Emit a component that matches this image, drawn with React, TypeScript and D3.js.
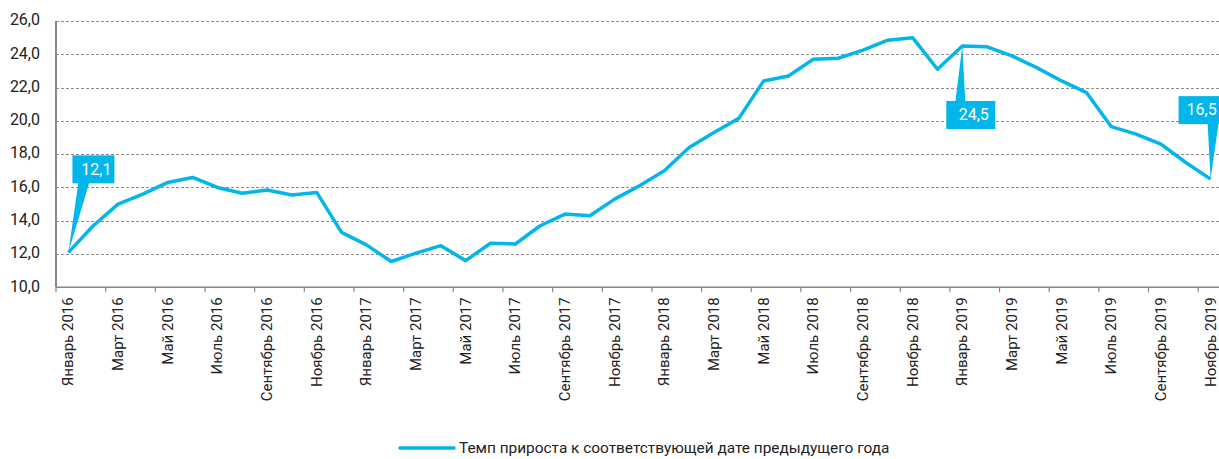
import { useEffect, useRef } from 'react'
import * as d3 from 'd3'

const months = ['Январь', 'Февраль', 'Март', 'Апрель', 'Май', 'Июнь', 'Июль', 'Август', 'Сентябрь', 'Октябрь', 'Ноябрь', 'Декабрь']
const years = [2016, 2017, 2018, 2019]

const categories: string[] = []
years.forEach(y => months.forEach(m => categories.push(`${m} ${y}`)))
categories.splice(47)

const growthRate = [
  12.1, 13.7, 15.0, 15.6, 16.3, 16.6, 16.0, 15.65, 15.85, 15.55, 15.7, 13.3,
  12.55, 11.55, 12.05, 12.5, 11.6, 12.65, 12.6, 13.7, 14.4, 14.3, 15.3, 16.1,
  17.0, 18.4, 19.3, 20.15, 22.4, 22.7, 23.7, 23.76, 24.25, 24.85, 25.0, 23.1,
  24.5, 24.45, 23.9, 23.2, 22.4, 21.7, 19.65, 19.2, 18.6, 17.5, 16.5,
]

const yTicks = [10, 12, 14, 16, 18, 20, 22, 24, 26]
const seriesName = 'Темп прироста к соответствующей дате предыдущего года'

// callouts: index into data, label, placement
const callouts = [
  { index: 0, label: '12,1', place: 'above-right' },
  { index: 36, label: '24,5', place: 'below' },
  { index: 46, label: '16,5', place: 'above-left' },
]

const BLUE = '#00b6ea'
const FONT = 'Roboto, "Noto Sans", sans-serif'

export default function App() {
  const svgRef = useRef<SVGSVGElement>(null)

  useEffect(() => {
    if (!svgRef.current) return
    const W = 1219
    const H = 459
    const margin = { top: 21, left: 56, bottom: 172 }
    const plotBottom = H - margin.bottom + 0.3

    const svg = d3.select(svgRef.current)
    svg.selectAll('*').remove()
    svg.attr('width', W).attr('height', H)

    const x = d3.scaleBand()
      .domain(categories)
      .range([margin.left, margin.left + categories.length * 24.83])
      .padding(0)

    const y = d3.scaleLinear()
      .domain([10, 26])
      .range([plotBottom, margin.top])

    const cx = (i: number) => (x(categories[i]) || 0) + x.bandwidth() / 2

    // Gridlines
    svg.append('g')
      .selectAll('line')
      .data(yTicks.filter(t => t > 10))
      .join('line')
      .attr('x1', margin.left)
      .attr('x2', W)
      .attr('y1', d => Math.round(y(d)) + 0.5)
      .attr('y2', d => Math.round(y(d)) + 0.5)
      .attr('stroke', '#8c8c8c')
      .attr('stroke-width', 1)
      .attr('stroke-dasharray', '3,2')

    // Y axis labels
    svg.append('g')
      .selectAll('text')
      .data(yTicks)
      .join('text')
      .attr('x', 40)
      .attr('y', d => y(d))
      .attr('text-anchor', 'end')
      .attr('dominant-baseline', 'middle')
      .attr('font-family', FONT)
      .attr('font-size', '16px')
      .attr('fill', '#222')
      .text(d => d.toFixed(1).replace('.', ','))

    // Y axis line
    svg.append('line')
      .attr('x1', margin.left)
      .attr('x2', margin.left)
      .attr('y1', margin.top)
      .attr('y2', plotBottom)
      .attr('stroke', '#888')
      .attr('stroke-width', 2)

    // X axis line and ticks
    svg.append('line')
      .attr('x1', margin.left)
      .attr('x2', W)
      .attr('y1', plotBottom)
      .attr('y2', plotBottom)
      .attr('stroke', '#888')
      .attr('stroke-width', 1.5)

    const tickIdx = d3.range(0, categories.length, 2)
    svg.append('g')
      .selectAll('line')
      .data(tickIdx)
      .join('line')
      .attr('x1', i => x(categories[i]) || 0)
      .attr('x2', i => x(categories[i]) || 0)
      .attr('y1', plotBottom)
      .attr('y2', plotBottom + 5)
      .attr('stroke', '#888')
      .attr('stroke-width', 1.2)

    // X labels (every other month)
    svg.append('g')
      .selectAll('text')
      .data(tickIdx)
      .join('text')
      .attr('transform', i => `translate(${cx(i) + 1},${plotBottom + 10}) rotate(-90)`)
      .attr('text-anchor', 'end')
      .attr('dominant-baseline', 'middle')
      .attr('font-family', FONT)
      .attr('font-size', '15px')
      .attr('fill', '#222')
      .text(i => categories[i])

    // Line
    const line = d3.line<number>()
      .x((_, i) => cx(i))
      .y(d => y(d))

    svg.append('path')
      .datum(growthRate)
      .attr('d', line)
      .attr('fill', 'none')
      .attr('stroke', BLUE)
      .attr('stroke-width', 3.5)
      .attr('stroke-linejoin', 'round')

    // Callouts
    callouts.forEach(c => {
      const px = cx(c.index)
      const py = y(growthRate[c.index])
      let bx0: number, bx1: number, by0: number, by1: number, pointer: [number, number][]
      if (c.place === 'above-right') {
        bx0 = px + 4; bx1 = px + 46; by0 = py - 97; by1 = py - 69
        pointer = [[px + 10, by1 - 1], [px + 21, by1 - 1], [px, py]]
      } else if (c.place === 'below') {
        bx0 = px - 16; bx1 = px + 33; by0 = py + 55; by1 = py + 83
        pointer = [[px - 7, by0 + 1], [px + 3, by0 + 1], [px, py]]
      } else {
        bx0 = px - 32; bx1 = px + 14; by0 = py - 83; by1 = py - 55
        pointer = [[px - 3, by1 - 1], [px + 8, by1 - 1], [px, py]]
      }
      const g = svg.append('g')
      g.append('path')
        .attr('d', d3.line()(pointer) + 'Z')
        .attr('fill', BLUE)
      g.append('rect')
        .attr('x', bx0)
        .attr('y', by0)
        .attr('width', bx1 - bx0)
        .attr('height', by1 - by0)
        .attr('fill', BLUE)
      g.append('text')
        .attr('x', c.place === 'above-left' ? px - 9 : (bx0 + bx1) / 2 + 3)
        .attr('y', (by0 + by1) / 2 + 1)
        .attr('text-anchor', 'middle')
        .attr('dominant-baseline', 'middle')
        .attr('font-family', FONT)
        .attr('font-size', '16px')
        .attr('fill', '#fff')
        .text(c.label)
    })

    // Legend
    const lg = svg.append('g').attr('transform', 'translate(400,448)')
    lg.append('line')
      .attr('x1', 0)
      .attr('x2', 54)
      .attr('y1', 0)
      .attr('y2', 0)
      .attr('stroke', BLUE)
      .attr('stroke-width', 3.5)
      .attr('stroke-linecap', 'round')
    lg.append('text')
      .attr('x', 59)
      .attr('y', 1)
      .attr('dominant-baseline', 'middle')
      .attr('font-family', FONT)
      .attr('font-size', '15.4px')
      .attr('fill', '#222')
      .text(seriesName)
  }, [])

  return (
    <div style={{ position: 'absolute', left: 0, top: 0 }}>
      <svg ref={svgRef} style={{ display: 'block' }}></svg>
    </div>
  )
}
